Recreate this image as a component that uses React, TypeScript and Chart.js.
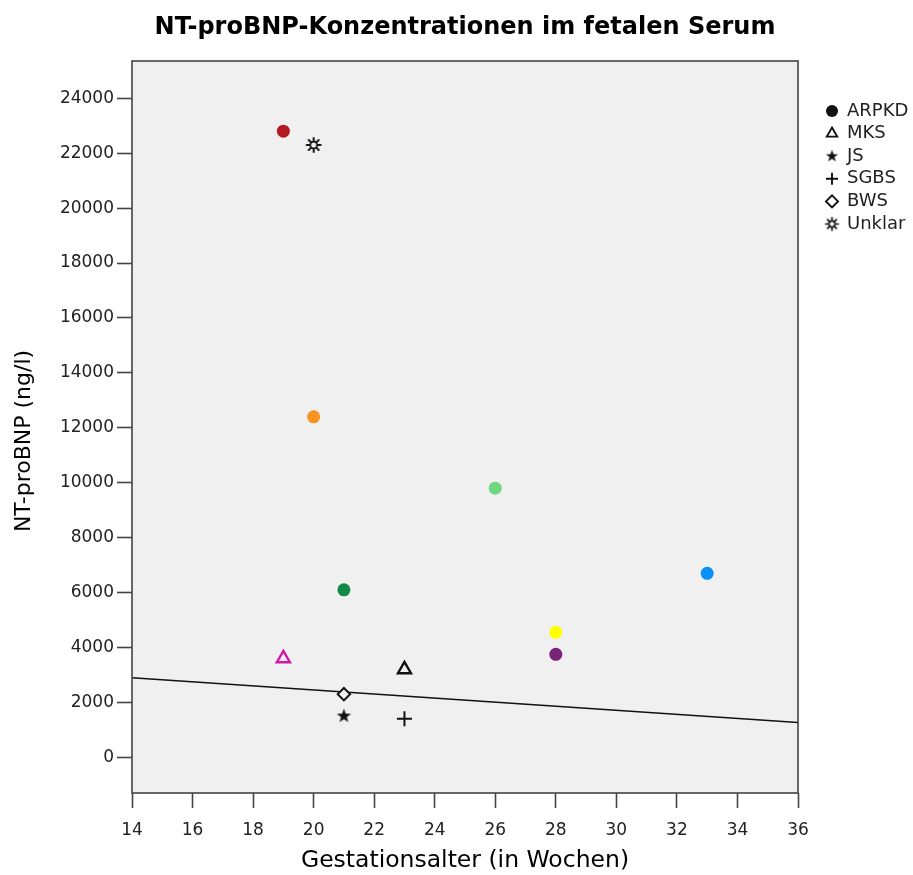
import React, { useEffect, useRef } from 'react';
import { Chart, registerables } from 'chart.js';

Chart.register(...registerables);

// ---------- data ----------
const CHART_TITLE = 'NT-proBNP-Konzentrationen im fetalen Serum';
const X_TITLE = 'Gestationsalter (in Wochen)';
const Y_TITLE = 'NT-proBNP (ng/l)';

const X_TICKS = [14, 16, 18, 20, 22, 24, 26, 28, 30, 32, 34, 36];
const Y_TICKS = [0, 2000, 4000, 6000, 8000, 10000, 12000, 14000, 16000, 18000, 20000, 22000, 24000];

const GROUP_LABELS = ['ARPKD', 'MKS', 'JS', 'SGBS', 'BWS', 'Unklar'];

const ARPKD_WEEKS = [19, 20, 26, 21, 33, 28, 28];
const ARPKD_VALUES = [22800, 12400, 9800, 6100, 6700, 4550, 3750];
const ARPKD_COLORS = ['#B31B22', '#F7931E', '#6FD77F', '#108A45', '#0A91F7', '#FFFF00', '#7A2479'];

const MKS_WEEKS = [19, 23];
const MKS_VALUES = [3600, 3200];
const MKS_COLORS = ['#D415AA', '#111111'];

const JS_WEEKS = [21];
const JS_VALUES = [1500];

const SGBS_WEEKS = [23];
const SGBS_VALUES = [1400];

const BWS_WEEKS = [21];
const BWS_VALUES = [2300];

const UNKLAR_WEEKS = [20];
const UNKLAR_VALUES = [22300];

const FIT_WEEKS = [14, 36];
const FIT_VALUES = [2900, 1270];

// ---------- layout constants ----------
const W = 913;
const H = 875;
const FONT = '"DejaVu Sans", "Liberation Sans", sans-serif';
const PLOT_BG = '#F0F0F0';
const AXIS_COLOR = '#444444';
const TEXT_COLOR = '#222222';

const toPoints = (xs: number[], ys: number[]) => xs.map((x, i) => ({ x, y: ys[i] }));

function makeStar(outer: number, inner: number, color: string) {
  const s = Math.ceil(outer * 2 + 4);
  const c = document.createElement('canvas');
  c.width = s;
  c.height = s;
  const g = c.getContext('2d')!;
  g.translate(s / 2, s / 2);
  g.beginPath();
  for (let i = 0; i < 10; i++) {
    const r = i % 2 ? inner : outer;
    const a = -Math.PI / 2 + (i * Math.PI) / 5;
    g.lineTo(r * Math.cos(a), r * Math.sin(a));
  }
  g.closePath();
  g.fillStyle = color;
  g.fill();
  return c;
}

function makeSun(outer: number, ring: number, color: string, hole: string) {
  const s = Math.ceil(outer * 2 + 4);
  const c = document.createElement('canvas');
  c.width = s;
  c.height = s;
  const g = c.getContext('2d')!;
  g.translate(s / 2, s / 2);
  g.strokeStyle = color;
  g.lineCap = 'round';
  g.lineWidth = Math.max(1.4, outer * 0.28);
  for (let i = 0; i < 8; i++) {
    const a = (i * Math.PI) / 4;
    g.beginPath();
    g.moveTo(ring * Math.cos(a), ring * Math.sin(a));
    g.lineTo(outer * Math.cos(a), outer * Math.sin(a));
    g.stroke();
  }
  g.beginPath();
  g.arc(0, 0, ring, 0, Math.PI * 2);
  g.fillStyle = hole;
  g.fill();
  g.lineWidth = Math.max(1.3, outer * 0.24);
  g.stroke();
  return c;
}

const frameAndBackground = {
  id: 'frameAndBackground',
  beforeDraw(chart: any) {
    const { ctx, chartArea: a } = chart;
    ctx.save();
    ctx.fillStyle = '#FFFFFF';
    ctx.fillRect(0, 0, chart.width, chart.height);
    ctx.fillStyle = PLOT_BG;
    ctx.fillRect(a.left, a.top, a.right - a.left, a.bottom - a.top);
    ctx.restore();
  },
  afterDraw(chart: any) {
    const { ctx, chartArea: a } = chart;
    ctx.save();
    ctx.strokeStyle = AXIS_COLOR;
    ctx.lineWidth = 1.6;
    ctx.strokeRect(a.left, a.top, a.right - a.left, a.bottom - a.top);
    ctx.restore();
  },
};

export default function App() {
  const canvasRef = useRef<HTMLCanvasElement | null>(null);

  useEffect(() => {
    const canvas = canvasRef.current;
    if (!canvas) return;

    Chart.defaults.font.family = FONT;

    const starPt = makeStar(7.5, 3, '#111111');
    const sunPt = makeSun(7, 3.4, '#111111', PLOT_BG);
    const starLeg = makeStar(6.5, 2.6, '#111111');
    const sunLeg = makeSun(6.2, 3, '#111111', '#FFFFFF');

    // legend geometry
    const legendFontSize = 18;
    const legendPad = 4.6;
    const legendBoxW = 12;
    const targetRight = 798; // plot right edge
    const legendItemLeft = 826;
    const m = document.createElement('canvas').getContext('2d')!;
    m.font = `${legendFontSize}px ${FONT}`;
    const maxText = Math.max(...GROUP_LABELS.map((t) => m.measureText(t).width));
    // Chart.js adds 10px to a vertical legend's fitted width
    const legendWidth = legendPad + legendBoxW + legendFontSize / 2 + maxText + 10;
    const spacerW = legendItemLeft - legendPad - targetRight;
    const padRight = W - targetRight - spacerW - legendWidth;

    const legendStyles: any[] = [
      { pointStyle: 'circle', fillStyle: '#111111', strokeStyle: '#111111', lineWidth: 0 },
      { pointStyle: 'triangle', fillStyle: 'rgba(0,0,0,0)', strokeStyle: '#111111', lineWidth: 1.9 },
      { pointStyle: starLeg, fillStyle: '#111111', strokeStyle: '#111111', lineWidth: 0 },
      { pointStyle: 'cross', fillStyle: 'rgba(0,0,0,0)', strokeStyle: '#111111', lineWidth: 1.9 },
      { pointStyle: 'rectRot', fillStyle: 'rgba(0,0,0,0)', strokeStyle: '#111111', lineWidth: 1.9 },
      { pointStyle: sunLeg, fillStyle: '#111111', strokeStyle: '#111111', lineWidth: 0 },
    ];

    const chart = new Chart(canvas, {
      type: 'scatter',
      data: {
        datasets: [
          {
            label: GROUP_LABELS[0],
            data: toPoints(ARPKD_WEEKS, ARPKD_VALUES),
            pointStyle: 'circle',
            pointRadius: 6.5,
            pointBackgroundColor: ARPKD_COLORS,
            pointBorderColor: ARPKD_COLORS,
            pointBorderWidth: 0,
          },
          {
            label: GROUP_LABELS[1],
            data: toPoints(MKS_WEEKS, MKS_VALUES),
            pointStyle: 'triangle',
            pointRadius: 7.5,
            pointBackgroundColor: 'rgba(0,0,0,0)',
            pointBorderColor: MKS_COLORS,
            pointBorderWidth: 2.4,
          },
          {
            label: GROUP_LABELS[2],
            data: toPoints(JS_WEEKS, JS_VALUES),
            pointStyle: starPt as any,
            pointRadius: 7,
          },
          {
            label: GROUP_LABELS[3],
            data: toPoints(SGBS_WEEKS, SGBS_VALUES),
            pointStyle: 'cross',
            pointRadius: 7.5,
            pointBorderColor: '#111111',
            pointBorderWidth: 2,
          },
          {
            label: GROUP_LABELS[4],
            data: toPoints(BWS_WEEKS, BWS_VALUES),
            pointStyle: 'rectRot',
            pointRadius: 6.2,
            pointBackgroundColor: PLOT_BG,
            pointBorderColor: '#111111',
            pointBorderWidth: 2,
          },
          {
            label: GROUP_LABELS[5],
            data: toPoints(UNKLAR_WEEKS, UNKLAR_VALUES),
            pointStyle: sunPt as any,
            pointRadius: 7,
          },
          {
            label: 'fit',
            data: toPoints(FIT_WEEKS, FIT_VALUES),
            showLine: true,
            pointRadius: 0,
            borderColor: '#111111',
            borderWidth: 1.5,
            order: 10,
          } as any,
        ],
      },
      options: {
        responsive: false,
        maintainAspectRatio: false,
        animation: false,
        events: [],
        layout: { padding: { left: 0, top: 0, bottom: 0, right: padRight } },
        plugins: {
          tooltip: { enabled: false },
          title: {
            display: true,
            text: CHART_TITLE,
            color: '#000000',
            fullSize: false,
            font: { size: 24, weight: 'bold', family: FONT },
            padding: { top: 13, bottom: 19.2 },
          },
          legend: {
            display: true,
            position: 'right',
            align: 'start',
            fullSize: false,
            title: {
              display: true,
              text: ' ',
              font: { size: 1 },
              padding: { top: 0, bottom: 35.2 },
            },
            labels: {
              usePointStyle: true,
              boxWidth: legendBoxW,
              boxHeight: 8.5,
              padding: legendPad,
              color: TEXT_COLOR,
              font: { size: legendFontSize, family: FONT },
              generateLabels: () =>
                GROUP_LABELS.map((text, i) => ({
                  text,
                  datasetIndex: i,
                  hidden: false,
                  fontColor: TEXT_COLOR,
                  ...legendStyles[i],
                })),
            },
          },
        },
        scales: {
          x: {
            type: 'linear',
            position: 'bottom',
            min: X_TICKS[0],
            max: X_TICKS[X_TICKS.length - 1],
            afterBuildTicks: (s: any) => {
              s.ticks = X_TICKS.map((v) => ({ value: v }));
            },
            afterFit: (s: any) => {
              s.height = 82;
            },
            border: { display: false },
            grid: {
              display: true,
              drawOnChartArea: false,
              drawTicks: true,
              tickLength: 15,
              tickColor: AXIS_COLOR,
              tickWidth: 1.6,
            },
            ticks: {
              color: TEXT_COLOR,
              font: { size: 17 },
              padding: 12,
              maxRotation: 0,
              callback: (v: any) => String(v),
            },
            title: {
              display: true,
              text: X_TITLE,
              color: '#000000',
              font: { size: 23.5 },
              padding: { top: 0, bottom: 0 },
            },
          },
          y: {
            type: 'linear',
            position: 'left',
            min: -1300,
            max: 25357,
            afterBuildTicks: (s: any) => {
              s.ticks = Y_TICKS.map((v) => ({ value: v }));
            },
            afterFit: (s: any) => {
              s.width = 132;
            },
            border: { display: false },
            grid: {
              display: true,
              drawOnChartArea: false,
              drawTicks: true,
              tickLength: 15,
              tickColor: AXIS_COLOR,
              tickWidth: 1.6,
            },
            ticks: {
              color: TEXT_COLOR,
              font: { size: 17 },
              padding: 3,
              callback: (v: any) => String(v),
            },
            title: {
              display: true,
              text: Y_TITLE + '    ',
              color: '#000000',
              font: { size: 22 },
              padding: { top: 11, bottom: 0 },
            },
          },
          spacer: {
            type: 'linear',
            position: 'right',
            display: true,
            afterFit: (s: any) => {
              s.width = spacerW;
            },
            border: { display: false },
            grid: { display: false },
            ticks: { display: false },
          },
        },
      } as any,
      plugins: [frameAndBackground],
    });

    return () => {
      chart.destroy();
    };
  }, []);

  return (
    <div
      style={{
        position: 'fixed',
        left: 0,
        top: 0,
        width: W,
        height: H,
        background: '#FFFFFF',
      }}
    >
      <canvas ref={canvasRef} width={W} height={H} style={{ width: W, height: H, display: 'block' }} />
    </div>
  );
}
